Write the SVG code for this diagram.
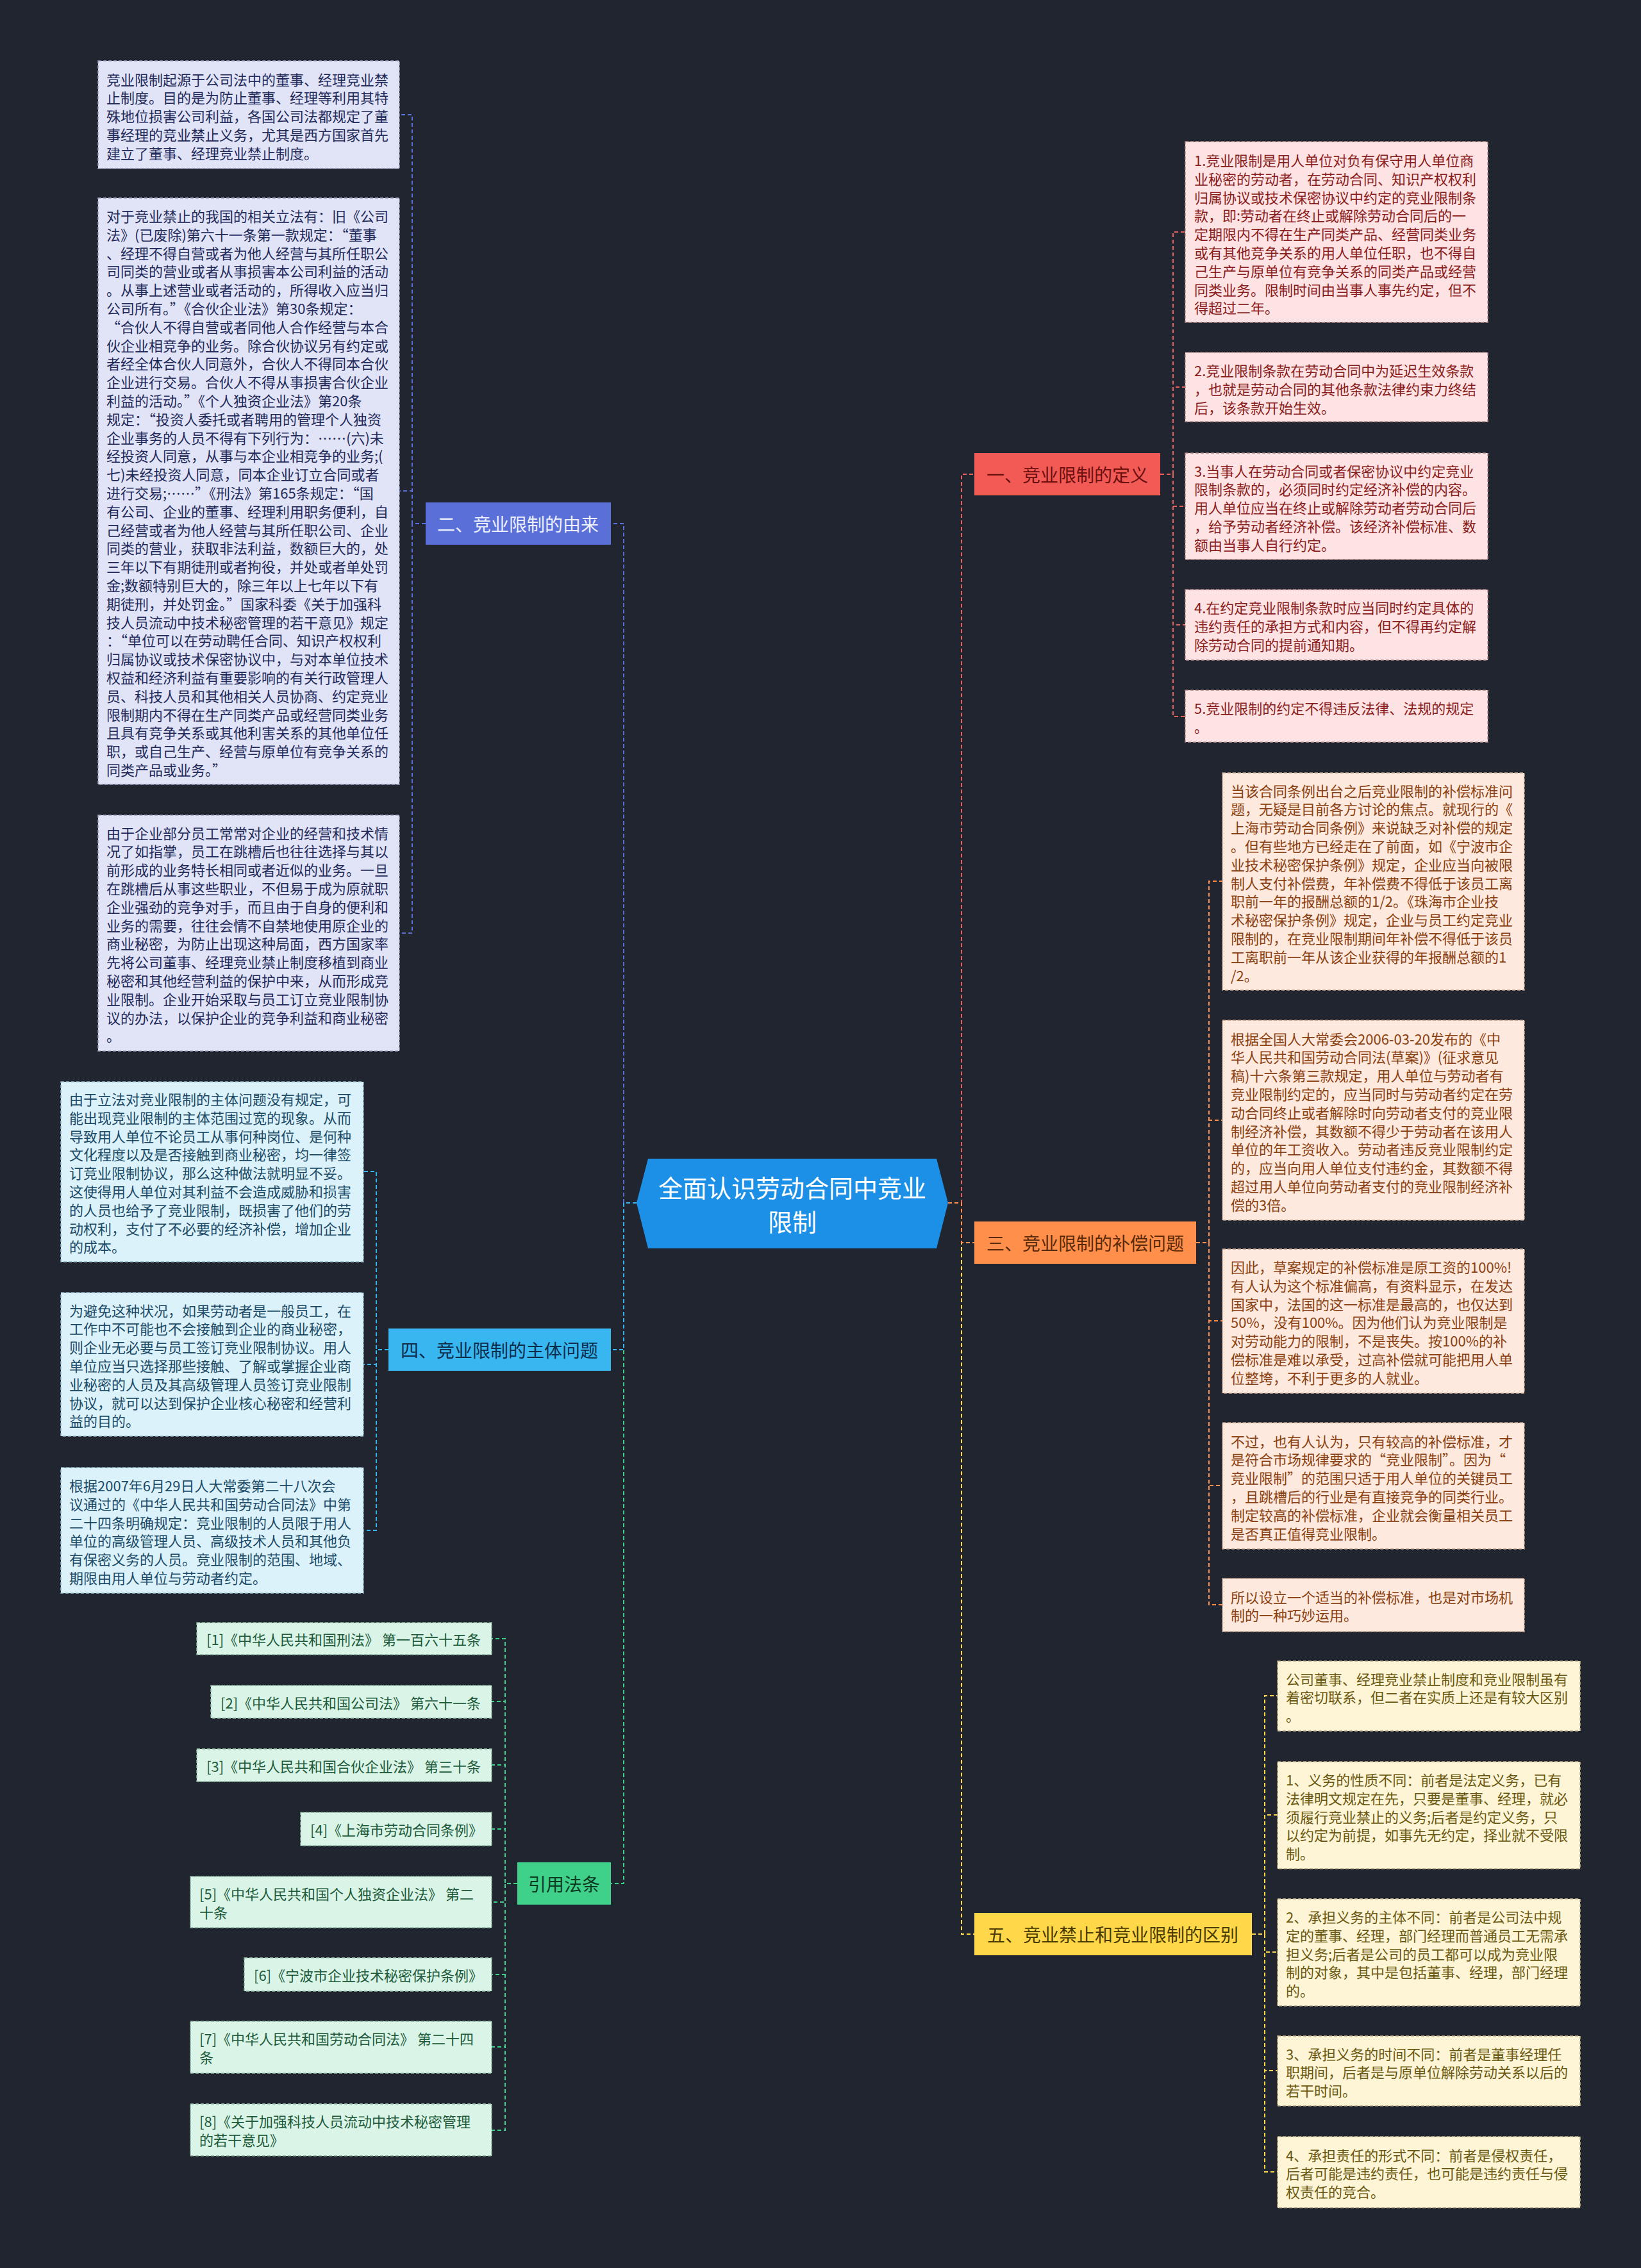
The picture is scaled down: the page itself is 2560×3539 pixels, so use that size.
<svg xmlns="http://www.w3.org/2000/svg" width="2560" height="3539" viewBox="0 0 2560 3539">
<style>
text{font-family:"Noto Sans CJK SC","Noto Sans",sans-serif;}
.t{font-size:22px;dominant-baseline:central;}
.lbl{font-size:28px;dominant-baseline:central;text-anchor:middle;}
.box{stroke-width:1.5;stroke-dasharray:5 3;}
.c{fill:none;stroke-width:2;stroke-dasharray:6 4;}
.pk{fill:#fde3e3;stroke:#b98f8f;} .pkt{fill:#8b1c1c;}
.lv{fill:#e1e4f6;stroke:#9aa0c0;} .lvt{fill:#1f2a5a;}
.pc{fill:#fde9dd;stroke:#c2a08a;} .pct{fill:#8a3f10;}
.lb{fill:#dcf2fb;stroke:#8fb4c4;} .lbt{fill:#1b4a66;}
.mt{fill:#daf4e7;stroke:#8fb8a2;} .mtt{fill:#1c5a3a;}
.cr{fill:#fdf5d6;stroke:#bdb08a;} .crt{fill:#6a5810;}
</style>
<rect width="2560" height="3539" fill="#21252f"/>

<g id="connectors">
<path class="c" stroke="#e8625c" d="M1479,1877 H1500 V740 H1520"/>
<path class="c" stroke="#ffd84a" d="M1479,1877 H1500 V3018 H1520"/>
<path class="c" stroke="#ff8f4a" d="M1479,1877 H1500 V1939 H1520"/>
<path class="c" stroke="#5a6fd8" d="M993,1877 H973 V817 H953"/>
<path class="c" stroke="#3fd18a" d="M993,1877 H973 V2939 H953"/>
<path class="c" stroke="#38b6f0" d="M993,1877 H973 V2106 H953"/>

<path class="c" stroke="#e8625c" d="M1810,740 H1830 V362 H1849 M1810,740 H1830 V604 H1849 M1810,740 H1830 V790 H1849 M1810,740 H1830 V975 H1849 M1810,740 H1830 V1118 H1849"/>
<path class="c" stroke="#5a6fd8" d="M664,817 H643 V179 H623 M664,817 H643 V766 H623 M664,817 H643 V1456 H623"/>
<path class="c" stroke="#ff8f4a" d="M1866,1939 H1886 V1375 H1907 M1866,1939 H1886 V1748 H1907 M1866,1939 H1886 V2061 H1907 M1866,1939 H1886 V2318 H1907 M1866,1939 H1886 V2504 H1907"/>
<path class="c" stroke="#38b6f0" d="M606,2106 H587 V1828 H567 M606,2106 H587 V2129 H567 M606,2106 H587 V2388 H567"/>
<path class="c" stroke="#3fd18a" d="M807,2939 H788 V2557 H767 M807,2939 H788 V2655 H767 M807,2939 H788 V2754 H767 M807,2939 H788 V2854 H767 M807,2939 H788 V2968 H767 M807,2939 H788 V3081 H767 M807,2939 H788 V3194 H767 M807,2939 H788 V3324 H767"/>
<path class="c" stroke="#ffd84a" d="M1953,3018 H1973 V2646 H1993 M1953,3018 H1973 V2832 H1993 M1953,3018 H1973 V3046 H1993 M1953,3018 H1973 V3231 H1993 M1953,3018 H1973 V3389 H1993"/>
</g>

<g id="root">
<polygon points="1011,1808 1461,1808 1479,1877 1461,1948 1011,1948 993,1877" fill="#1c8fe6"/>
<text x="1236" y="1851" font-size="38" fill="#ffffff" text-anchor="middle" dominant-baseline="central">全面认识劳动合同中竞业</text>
<text x="1236" y="1904" font-size="38" fill="#ffffff" text-anchor="middle" dominant-baseline="central">限制</text>
</g>

<g id="b1">
<rect x="1520" y="707" width="290" height="66" fill="#f25a55"/>
<text class="lbl" x="1665" y="740" fill="#6b0f0f">一、竞业限制的定义</text>
</g>
<g id="b2">
<rect x="664" y="784" width="289" height="66" fill="#5a6fd8"/>
<text class="lbl" x="808" y="817" fill="#eef0ff">二、竞业限制的由来</text>
</g>
<g id="b3">
<rect x="1520" y="1906" width="346" height="66" fill="#ff8f4a"/>
<text class="lbl" x="1693" y="1939" fill="#5a2a0a">三、竞业限制的补偿问题</text>
</g>
<g id="b4">
<rect x="606" y="2073" width="347" height="66" fill="#38b6f0"/>
<text class="lbl" x="779" y="2106" fill="#0d2c4a">四、竞业限制的主体问题</text>
</g>
<g id="b6">
<rect x="807" y="2906" width="146" height="66" fill="#3fd18a"/>
<text class="lbl" x="880" y="2939" fill="#0b3a22">引用法条</text>
</g>
<g id="b5">
<rect x="1520" y="2985" width="433" height="66" fill="#ffd84a"/>
<text class="lbl" x="1736" y="3018" fill="#4a3a00">五、竞业禁止和竞业限制的区别</text>
</g>

<g id="n1-1">
<rect class="box pk" x="1849" y="221" width="472" height="282"/>
<text class="t pkt" x="1863"><tspan x="1863" y="249">1.竞业限制是用人单位对负有保守用人单位商</tspan><tspan x="1863" y="277.8">业秘密的劳动者，在劳动合同、知识产权权利</tspan><tspan x="1863" y="306.6">归属协议或技术保密协议中约定的竞业限制条</tspan><tspan x="1863" y="335.4">款，即:劳动者在终止或解除劳动合同后的一</tspan><tspan x="1863" y="364.2">定期限内不得在生产同类产品、经营同类业务</tspan><tspan x="1863" y="393">或有其他竞争关系的用人单位任职，也不得自</tspan><tspan x="1863" y="421.8">己生产与原单位有竞争关系的同类产品或经营</tspan><tspan x="1863" y="450.6">同类业务。限制时间由当事人事先约定，但不</tspan><tspan x="1863" y="479.4">得超过二年。</tspan></text>
</g>
<g id="n1-2">
<rect class="box pk" x="1849" y="550" width="472" height="108"/>
<text class="t pkt"><tspan x="1863" y="577">2.竞业限制条款在劳动合同中为延迟生效条款</tspan><tspan x="1863" y="605.8">，也就是劳动合同的其他条款法律约束力终结</tspan><tspan x="1863" y="634.6">后，该条款开始生效。</tspan></text>
</g>
<g id="n1-3">
<rect class="box pk" x="1849" y="707" width="472" height="166"/>
<text class="t pkt"><tspan x="1863" y="733.5">3.当事人在劳动合同或者保密协议中约定竞业</tspan><tspan x="1863" y="762.3">限制条款的，必须同时约定经济补偿的内容。</tspan><tspan x="1863" y="791.1">用人单位应当在终止或解除劳动者劳动合同后</tspan><tspan x="1863" y="819.9">，给予劳动者经济补偿。该经济补偿标准、数</tspan><tspan x="1863" y="848.7">额由当事人自行约定。</tspan></text>
</g>
<g id="n1-4">
<rect class="box pk" x="1849" y="920" width="472" height="110"/>
<text class="t pkt"><tspan x="1863" y="947">4.在约定竞业限制条款时应当同时约定具体的</tspan><tspan x="1863" y="975.8">违约责任的承担方式和内容，但不得再约定解</tspan><tspan x="1863" y="1004.6">除劳动合同的提前通知期。</tspan></text>
</g>
<g id="n1-5">
<rect class="box pk" x="1849" y="1077" width="472" height="81"/>
<text class="t pkt"><tspan x="1863" y="1104">5.竞业限制的约定不得违反法律、法规的规定</tspan><tspan x="1863" y="1132.8">。</tspan></text>
</g>

<g id="n2-1">
<rect class="box lv" x="153" y="95" width="470" height="168"/>
<text class="t lvt"><tspan x="166" y="122.5">竞业限制起源于公司法中的董事、经理竞业禁</tspan><tspan x="166" y="151.3">止制度。目的是为防止董事、经理等利用其特</tspan><tspan x="166" y="180.1">殊地位损害公司利益，各国公司法都规定了董</tspan><tspan x="166" y="208.9">事经理的竞业禁止义务，尤其是西方国家首先</tspan><tspan x="166" y="237.7">建立了董事、经理竞业禁止制度。</tspan></text>
</g>
<g id="n2-2">
<rect class="box lv" x="153" y="309" width="470" height="915"/>
<text class="t lvt"><tspan x="166" y="336">对于竞业禁止的我国的相关立法有：旧《公司</tspan><tspan x="166" y="364.8">法》(已废除)第六十一条第一款规定：“董事</tspan><tspan x="166" y="393.6">、经理不得自营或者为他人经营与其所任职公</tspan><tspan x="166" y="422.4">司同类的营业或者从事损害本公司利益的活动</tspan><tspan x="166" y="451.2">。从事上述营业或者活动的，所得收入应当归</tspan><tspan x="166" y="480">公司所有。”《合伙企业法》第30条规定：</tspan><tspan x="166" y="508.8">“合伙人不得自营或者同他人合作经营与本合</tspan><tspan x="166" y="537.6">伙企业相竞争的业务。除合伙协议另有约定或</tspan><tspan x="166" y="566.4">者经全体合伙人同意外，合伙人不得同本合伙</tspan><tspan x="166" y="595.2">企业进行交易。合伙人不得从事损害合伙企业</tspan><tspan x="166" y="624">利益的活动。”《个人独资企业法》第20条</tspan><tspan x="166" y="652.8">规定：“投资人委托或者聘用的管理个人独资</tspan><tspan x="166" y="681.6">企业事务的人员不得有下列行为：……(六)未</tspan><tspan x="166" y="710.4">经投资人同意，从事与本企业相竞争的业务;(</tspan><tspan x="166" y="739.2">七)未经投资人同意，同本企业订立合同或者</tspan><tspan x="166" y="768">进行交易;……”《刑法》第165条规定：“国</tspan><tspan x="166" y="796.8">有公司、企业的董事、经理利用职务便利，自</tspan><tspan x="166" y="825.6">己经营或者为他人经营与其所任职公司、企业</tspan><tspan x="166" y="854.4">同类的营业，获取非法利益，数额巨大的，处</tspan><tspan x="166" y="883.2">三年以下有期徒刑或者拘役，并处或者单处罚</tspan><tspan x="166" y="912">金;数额特别巨大的，除三年以上七年以下有</tspan><tspan x="166" y="940.8">期徒刑，并处罚金。”国家科委《关于加强科</tspan><tspan x="166" y="969.6">技人员流动中技术秘密管理的若干意见》规定</tspan><tspan x="166" y="998.4">：“单位可以在劳动聘任合同、知识产权权利</tspan><tspan x="166" y="1027.2">归属协议或技术保密协议中，与对本单位技术</tspan><tspan x="166" y="1056">权益和经济利益有重要影响的有关行政管理人</tspan><tspan x="166" y="1084.8">员、科技人员和其他相关人员协商、约定竞业</tspan><tspan x="166" y="1113.6">限制期内不得在生产同类产品或经营同类业务</tspan><tspan x="166" y="1142.4">且具有竞争关系或其他利害关系的其他单位任</tspan><tspan x="166" y="1171.2">职，或自己生产、经营与原单位有竞争关系的</tspan><tspan x="166" y="1200">同类产品或业务。”</tspan></text>
</g>
<g id="n2-3">
<rect class="box lv" x="153" y="1272" width="470" height="368"/>
<text class="t lvt"><tspan x="166" y="1298.5">由于企业部分员工常常对企业的经营和技术情</tspan><tspan x="166" y="1327.3">况了如指掌，员工在跳槽后也往往选择与其以</tspan><tspan x="166" y="1356.1">前形成的业务特长相同或者近似的业务。一旦</tspan><tspan x="166" y="1384.9">在跳槽后从事这些职业，不但易于成为原就职</tspan><tspan x="166" y="1413.7">企业强劲的竞争对手，而且由于自身的便利和</tspan><tspan x="166" y="1442.5">业务的需要，往往会情不自禁地使用原企业的</tspan><tspan x="166" y="1471.3">商业秘密，为防止出现这种局面，西方国家率</tspan><tspan x="166" y="1500.1">先将公司董事、经理竞业禁止制度移植到商业</tspan><tspan x="166" y="1528.9">秘密和其他经营利益的保护中来，从而形成竞</tspan><tspan x="166" y="1557.7">业限制。企业开始采取与员工订立竞业限制协</tspan><tspan x="166" y="1586.5">议的办法，以保护企业的竞争利益和商业秘密</tspan><tspan x="166" y="1615.3">。</tspan></text>
</g>

<g id="n3-1">
<rect class="box pc" x="1907" y="1206" width="471" height="339"/>
<text class="t pct"><tspan x="1920" y="1232.5">当该合同条例出台之后竞业限制的补偿标准问</tspan><tspan x="1920" y="1261.3">题，无疑是目前各方讨论的焦点。就现行的《</tspan><tspan x="1920" y="1290.1">上海市劳动合同条例》来说缺乏对补偿的规定</tspan><tspan x="1920" y="1318.9">。但有些地方已经走在了前面，如《宁波市企</tspan><tspan x="1920" y="1347.7">业技术秘密保护条例》规定，企业应当向被限</tspan><tspan x="1920" y="1376.5">制人支付补偿费，年补偿费不得低于该员工离</tspan><tspan x="1920" y="1405.3">职前一年的报酬总额的1/2。《珠海市企业技</tspan><tspan x="1920" y="1434.1">术秘密保护条例》规定，企业与员工约定竞业</tspan><tspan x="1920" y="1462.9">限制的，在竞业限制期间年补偿不得低于该员</tspan><tspan x="1920" y="1491.7">工离职前一年从该企业获得的年报酬总额的1</tspan><tspan x="1920" y="1520.5">/2。</tspan></text>
</g>
<g id="n3-2">
<rect class="box pc" x="1907" y="1592" width="471" height="312"/>
<text class="t pct"><tspan x="1920" y="1619.5">根据全国人大常委会2006-03-20发布的《中</tspan><tspan x="1920" y="1648.3">华人民共和国劳动合同法(草案)》(征求意见</tspan><tspan x="1920" y="1677.1">稿)十六条第三款规定，用人单位与劳动者有</tspan><tspan x="1920" y="1705.9">竞业限制约定的，应当同时与劳动者约定在劳</tspan><tspan x="1920" y="1734.7">动合同终止或者解除时向劳动者支付的竞业限</tspan><tspan x="1920" y="1763.5">制经济补偿，其数额不得少于劳动者在该用人</tspan><tspan x="1920" y="1792.3">单位的年工资收入。劳动者违反竞业限制约定</tspan><tspan x="1920" y="1821.1">的，应当向用人单位支付违约金，其数额不得</tspan><tspan x="1920" y="1849.9">超过用人单位向劳动者支付的竞业限制经济补</tspan><tspan x="1920" y="1878.7">偿的3倍。</tspan></text>
</g>
<g id="n3-3">
<rect class="box pc" x="1907" y="1949" width="471" height="225"/>
<text class="t pct"><tspan x="1920" y="1976">因此，草案规定的补偿标准是原工资的100%!</tspan><tspan x="1920" y="2004.8">有人认为这个标准偏高，有资料显示，在发达</tspan><tspan x="1920" y="2033.6">国家中，法国的这一标准是最高的，也仅达到</tspan><tspan x="1920" y="2062.4">50%，没有100%。因为他们认为竞业限制是</tspan><tspan x="1920" y="2091.2">对劳动能力的限制，不是丧失。按100%的补</tspan><tspan x="1920" y="2120">偿标准是难以承受，过高补偿就可能把用人单</tspan><tspan x="1920" y="2148.8">位整垮，不利于更多的人就业。</tspan></text>
</g>
<g id="n3-4">
<rect class="box pc" x="1907" y="2220" width="471" height="197"/>
<text class="t pct"><tspan x="1920" y="2247.5">不过，也有人认为，只有较高的补偿标准，才</tspan><tspan x="1920" y="2276.3">是符合市场规律要求的“竞业限制”。因为“</tspan><tspan x="1920" y="2305.1">竞业限制”的范围只适于用人单位的关键员工</tspan><tspan x="1920" y="2333.9">，且跳槽后的行业是有直接竞争的同类行业。</tspan><tspan x="1920" y="2362.7">制定较高的补偿标准，企业就会衡量相关员工</tspan><tspan x="1920" y="2391.5">是否真正值得竞业限制。</tspan></text>
</g>
<g id="n3-5">
<rect class="box pc" x="1907" y="2463" width="471" height="83"/>
<text class="t pct"><tspan x="1920" y="2490.5">所以设立一个适当的补偿标准，也是对市场机</tspan><tspan x="1920" y="2519.3">制的一种巧妙运用。</tspan></text>
</g>

<g id="n4-1">
<rect class="box lb" x="95" y="1688" width="472" height="281"/>
<text class="t lbt"><tspan x="108" y="1714">由于立法对竞业限制的主体问题没有规定，可</tspan><tspan x="108" y="1742.8">能出现竞业限制的主体范围过宽的现象。从而</tspan><tspan x="108" y="1771.6">导致用人单位不论员工从事何种岗位、是何种</tspan><tspan x="108" y="1800.4">文化程度以及是否接触到商业秘密，均一律签</tspan><tspan x="108" y="1829.2">订竞业限制协议，那么这种做法就明显不妥。</tspan><tspan x="108" y="1858">这使得用人单位对其利益不会造成威胁和损害</tspan><tspan x="108" y="1886.8">的人员也给予了竞业限制，既损害了他们的劳</tspan><tspan x="108" y="1915.6">动权利，支付了不必要的经济补偿，增加企业</tspan><tspan x="108" y="1944.4">的成本。</tspan></text>
</g>
<g id="n4-2">
<rect class="box lb" x="95" y="2017" width="472" height="224"/>
<text class="t lbt"><tspan x="108" y="2043.5">为避免这种状况，如果劳动者是一般员工，在</tspan><tspan x="108" y="2072.3">工作中不可能也不会接触到企业的商业秘密，</tspan><tspan x="108" y="2101.1">则企业无必要与员工签订竞业限制协议。用人</tspan><tspan x="108" y="2129.9">单位应当只选择那些接触、了解或掌握企业商</tspan><tspan x="108" y="2158.7">业秘密的人员及其高级管理人员签订竞业限制</tspan><tspan x="108" y="2187.5">协议，就可以达到保护企业核心秘密和经营利</tspan><tspan x="108" y="2216.3">益的目的。</tspan></text>
</g>
<g id="n4-3">
<rect class="box lb" x="95" y="2290" width="472" height="196"/>
<text class="t lbt"><tspan x="108" y="2317">根据2007年6月29日人大常委第二十八次会</tspan><tspan x="108" y="2345.8">议通过的《中华人民共和国劳动合同法》中第</tspan><tspan x="108" y="2374.6">二十四条明确规定：竞业限制的人员限于用人</tspan><tspan x="108" y="2403.4">单位的高级管理人员、高级技术人员和其他负</tspan><tspan x="108" y="2432.2">有保密义务的人员。竞业限制的范围、地域、</tspan><tspan x="108" y="2461">期限由用人单位与劳动者约定。</tspan></text>
</g>

<g id="n6-1"><rect class="box mt" x="307" y="2532" width="460" height="50"/><text class="t mtt" x="322" y="2557">[1]《中华人民共和国刑法》 第一百六十五条</text></g>
<g id="n6-2"><rect class="box mt" x="329" y="2630" width="438" height="51"/><text class="t mtt" x="344" y="2655.5">[2]《中华人民共和国公司法》 第六十一条</text></g>
<g id="n6-3"><rect class="box mt" x="307" y="2729" width="460" height="51"/><text class="t mtt" x="322" y="2754.5">[3]《中华人民共和国合伙企业法》 第三十条</text></g>
<g id="n6-4"><rect class="box mt" x="469" y="2828" width="298" height="52"/><text class="t mtt" x="484" y="2854">[4]《上海市劳动合同条例》</text></g>
<g id="n6-5"><rect class="box mt" x="297" y="2928" width="470" height="80"/><text class="t mtt"><tspan x="311" y="2954">[5]《中华人民共和国个人独资企业法》 第二</tspan><tspan x="311" y="2982.8">十条</tspan></text></g>
<g id="n6-6"><rect class="box mt" x="381" y="3055" width="386" height="52"/><text class="t mtt" x="396" y="3081">[6]《宁波市企业技术秘密保护条例》</text></g>
<g id="n6-7"><rect class="box mt" x="297" y="3154" width="470" height="81"/><text class="t mtt"><tspan x="311" y="3180">[7]《中华人民共和国劳动合同法》 第二十四</tspan><tspan x="311" y="3208.8">条</tspan></text></g>
<g id="n6-8"><rect class="box mt" x="297" y="3283" width="470" height="81"/><text class="t mtt"><tspan x="311" y="3309">[8]《关于加强科技人员流动中技术秘密管理</tspan><tspan x="311" y="3337.8">的若干意见》</tspan></text></g>

<g id="n5-1">
<rect class="box cr" x="1993" y="2592" width="472" height="109"/>
<text class="t crt"><tspan x="2006" y="2618.5">公司董事、经理竞业禁止制度和竞业限制虽有</tspan><tspan x="2006" y="2647.3">着密切联系，但二者在实质上还是有较大区别</tspan><tspan x="2006" y="2676.1">。</tspan></text>
</g>
<g id="n5-2">
<rect class="box cr" x="1993" y="2749" width="472" height="167"/>
<text class="t crt"><tspan x="2006" y="2776">1、义务的性质不同：前者是法定义务，已有</tspan><tspan x="2006" y="2804.8">法律明文规定在先，只要是董事、经理，就必</tspan><tspan x="2006" y="2833.6">须履行竞业禁止的义务;后者是约定义务，只</tspan><tspan x="2006" y="2862.4">以约定为前提，如事先无约定，择业就不受限</tspan><tspan x="2006" y="2891.2">制。</tspan></text>
</g>
<g id="n5-3">
<rect class="box cr" x="1993" y="2963" width="472" height="167"/>
<text class="t crt"><tspan x="2006" y="2990">2、承担义务的主体不同：前者是公司法中规</tspan><tspan x="2006" y="3018.8">定的董事、经理，部门经理而普通员工无需承</tspan><tspan x="2006" y="3047.6">担义务;后者是公司的员工都可以成为竞业限</tspan><tspan x="2006" y="3076.4">制的对象，其中是包括董事、经理，部门经理</tspan><tspan x="2006" y="3105.2">的。</tspan></text>
</g>
<g id="n5-4">
<rect class="box cr" x="1993" y="3177" width="472" height="109"/>
<text class="t crt"><tspan x="2006" y="3203.5">3、承担义务的时间不同：前者是董事经理任</tspan><tspan x="2006" y="3232.3">职期间，后者是与原单位解除劳动关系以后的</tspan><tspan x="2006" y="3261.1">若干时间。</tspan></text>
</g>
<g id="n5-5">
<rect class="box cr" x="1993" y="3334" width="472" height="111"/>
<text class="t crt"><tspan x="2006" y="3361.5">4、承担责任的形式不同：前者是侵权责任，</tspan><tspan x="2006" y="3390.3">后者可能是违约责任，也可能是违约责任与侵</tspan><tspan x="2006" y="3419.1">权责任的竞合。</tspan></text>
</g>
</svg>
